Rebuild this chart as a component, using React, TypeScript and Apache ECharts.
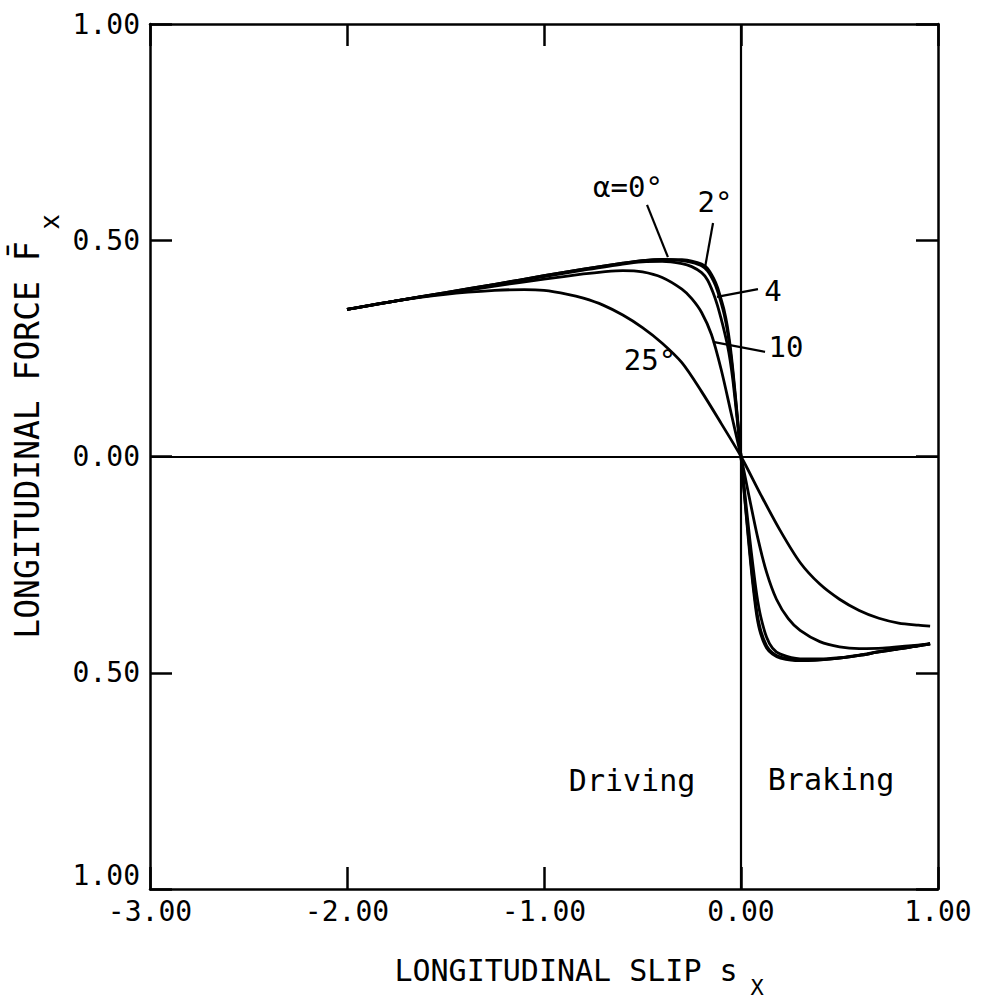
import React, { useEffect, useRef } from "react";
import * as echarts from "echarts";

const FONT = "'DejaVu Sans Mono', monospace";

// Longitudinal slip values (x) and normalized longitudinal force (y) per slip angle
const slip0 = [-2, -1.75, -1.5, -1.25, -1.0, -0.8, -0.6, -0.5, -0.4, -0.3, -0.25, -0.2, -0.17, -0.14, -0.12, -0.1, -0.085, -0.07, -0.055, -0.04, -0.02, 0, 0.015, 0.03, 0.045, 0.06, 0.08, 0.1, 0.13, 0.16, 0.2, 0.3, 0.4, 0.5, 0.6, 0.7, 0.8, 0.9, 0.96];
const force0 = [0.34, 0.36, 0.379, 0.398, 0.418, 0.433, 0.447, 0.453, 0.456, 0.455, 0.452, 0.445, 0.435, 0.413, 0.392, 0.362, 0.337, 0.303, 0.256, 0.195, 0.1, 0, -0.078, -0.154, -0.228, -0.295, -0.368, -0.41, -0.443, -0.457, -0.466, -0.472, -0.47, -0.466, -0.46, -0.452, -0.445, -0.438, -0.433];

const slip2 = slip0;
const force2 = [0.34, 0.36, 0.379, 0.398, 0.418, 0.433, 0.447, 0.453, 0.455, 0.453, 0.449, 0.441, 0.429, 0.406, 0.384, 0.354, 0.328, 0.293, 0.246, 0.187, 0.096, 0, -0.075, -0.148, -0.219, -0.285, -0.358, -0.402, -0.438, -0.454, -0.464, -0.471, -0.47, -0.466, -0.46, -0.452, -0.445, -0.438, -0.433];

const slip4 = slip0;
const force4 = [0.34, 0.36, 0.378, 0.397, 0.416, 0.431, 0.445, 0.45, 0.451, 0.446, 0.439, 0.425, 0.408, 0.377, 0.35, 0.317, 0.29, 0.26, 0.222, 0.172, 0.088, 0, -0.066, -0.13, -0.192, -0.25, -0.32, -0.37, -0.418, -0.443, -0.457, -0.468, -0.468, -0.465, -0.459, -0.451, -0.444, -0.437, -0.432];

const slip10 = [-2, -1.75, -1.5, -1.25, -1.0, -0.8, -0.7, -0.6, -0.5, -0.4, -0.3, -0.25, -0.2, -0.15, -0.1, -0.05, 0, 0.04, 0.086, 0.13, 0.18, 0.24, 0.3, 0.4, 0.5, 0.6, 0.72, 0.85, 0.96];
const force10 = [0.34, 0.36, 0.377, 0.394, 0.41, 0.422, 0.427, 0.43, 0.427, 0.414, 0.387, 0.365, 0.333, 0.282, 0.2, 0.1, 0, -0.09, -0.19, -0.268, -0.33, -0.375, -0.402, -0.428, -0.44, -0.444, -0.443, -0.438, -0.434];

const slip25 = [-2, -1.75, -1.5, -1.25, -1.1, -1.0, -0.88, -0.8, -0.7, -0.6, -0.5, -0.4, -0.3, -0.2, -0.1, 0, 0.1, 0.2, 0.3, 0.4, 0.5, 0.6, 0.7, 0.8, 0.9, 0.96];
const force25 = [0.34, 0.36, 0.375, 0.384, 0.386, 0.384, 0.375, 0.366, 0.35, 0.327, 0.298, 0.262, 0.217, 0.15, 0.076, 0, -0.088, -0.172, -0.245, -0.295, -0.33, -0.356, -0.374, -0.385, -0.39, -0.392];

const curveNames = ["α=0°", "2°", "4°", "10°", "25°"];

// Axis ranges / ticks
const xMin = -3, xMax = 1, xStep = 1;
const yMin = -1, yMax = 1, yStep = 0.5;

// Annotation labels placed in data coordinates
const labelTexts = ["α=0°", "2°", "4", "10", "25°", "Driving", "Braking"];
const labelX = [-0.574, -0.132, 0.162, 0.228, -0.462, -0.553, 0.457];
const labelY = [0.623, 0.588, 0.383, 0.253, 0.223, -0.75, -0.746];

// Leader lines (data coordinates): [x1, y1, x2, y2]
const leaderLines = [
  [-0.477, 0.582, -0.371, 0.461],
  [-0.142, 0.54, -0.183, 0.436],
  [-0.122, 0.369, 0.086, 0.387],
  [-0.142, 0.265, 0.122, 0.242],
];

export default function App() {
  const ref = useRef<HTMLDivElement>(null);

  useEffect(() => {
    const el = ref.current;
    if (!el) return;
    const chart = echarts.init(el, null, { renderer: "svg" });
    const zip = (xs: number[], ys: number[]) => xs.map((x, i) => [x, ys[i]]);
    const curves = [
      zip(slip0, force0),
      zip(slip2, force2),
      zip(slip4, force4),
      zip(slip10, force10),
      zip(slip25, force25),
    ];

    const axisLine = { show: true, onZero: false, lineStyle: { color: "#000", width: 2.5 } };
    const axisTick = { show: true, inside: true, length: 22, lineStyle: { color: "#000", width: 2.5 } };

    const option: any = {
      animation: false,
      backgroundColor: "#fff",
      grid: { left: 150, right: 45, top: 24, bottom: 109 },
      xAxis: [
        {
          type: "value", min: xMin, max: xMax, interval: xStep, position: "bottom",
          axisLine, axisTick,
          axisLabel: {
            formatter: (v: number) => v.toFixed(2),
            color: "#000", fontFamily: FONT, fontSize: 28, margin: 8,
          },
          splitLine: { show: false },
        },
        {
          type: "value", min: xMin, max: xMax, interval: xStep, position: "top",
          axisLine, axisTick, axisLabel: { show: false }, splitLine: { show: false },
        },
      ],
      yAxis: [
        {
          type: "value", min: yMin, max: yMax, interval: yStep, position: "left",
          axisLine, axisTick,
          axisLabel: {
            formatter: (v: number) => Math.abs(v).toFixed(2),
            color: "#000", fontFamily: FONT, fontSize: 28, margin: 10,
            verticalAlignMinLabel: "bottom",
          },
          splitLine: { show: false },
        },
        {
          type: "value", min: yMin, max: yMax, interval: yStep, position: "right",
          axisLine, axisTick, axisLabel: { show: false }, splitLine: { show: false },
        },
      ],
      series: curves.map((data, i) => ({
        name: curveNames[i],
        type: "line",
        data,
        showSymbol: false,
        symbol: "none",
        smooth: 0.3,
        lineStyle: { color: "#000", width: 2.8 },
        silent: true,
        z: 3,
        markLine: i === 0 ? {
          silent: true,
          symbol: ["none", "none"],
          label: { show: false },
          lineStyle: { color: "#000", width: 2.2, type: "solid" },
          data: [{ xAxis: 0 }, { yAxis: 0 }],
        } : undefined,
      })),
    };
    chart.setOption(option);

    const px = (x: number, y: number) => chart.convertToPixel({ gridIndex: 0 }, [x, y]) as number[];
    const graphics: any[] = [];
    labelTexts.forEach((t, i) => {
      const p = px(labelX[i], labelY[i]);
      graphics.push({
        type: "text", x: p[0], y: p[1],
        style: {
          text: t, fill: "#000", font: `${i >= 5 ? 30 : 29}px ${FONT}`,
          textAlign: "center", textVerticalAlign: "middle",
        },
      });
    });
    leaderLines.forEach((l) => {
      const a = px(l[0], l[1]);
      const b = px(l[2], l[3]);
      graphics.push({
        type: "line",
        shape: { x1: a[0], y1: a[1], x2: b[0], y2: b[1] },
        style: { stroke: "#000", lineWidth: 2.2 },
      });
    });
    // Axis titles
    graphics.push({
      type: "text", x: 566, y: 970,
      style: { text: "LONGITUDINAL SLIP s", fill: "#000", font: `30px ${FONT}`, textAlign: "center", textVerticalAlign: "middle" },
    });
    graphics.push({
      type: "text", x: 757, y: 987,
      style: { text: "X", fill: "#000", font: `22px ${FONT}`, textAlign: "center", textVerticalAlign: "middle" },
    });
    graphics.push({
      type: "text", x: 27, y: 440, rotation: Math.PI / 2,
      style: { text: "LONGITUDINAL FORCE F\u0304", fill: "#000", font: `33px ${FONT}`, textAlign: "center", textVerticalAlign: "middle" },
    });
    graphics.push({
      type: "text", x: 50, y: 222, rotation: Math.PI / 2,
      style: { text: "x", fill: "#000", font: `26px ${FONT}`, textAlign: "center", textVerticalAlign: "middle" },
    });
    chart.setOption({ graphic: graphics });

    return () => chart.dispose();
  }, []);

  return (
    <div
      ref={ref}
      style={{ position: "absolute", left: 0, top: 0, width: 983, height: 998, background: "#fff" }}
    />
  );
}
